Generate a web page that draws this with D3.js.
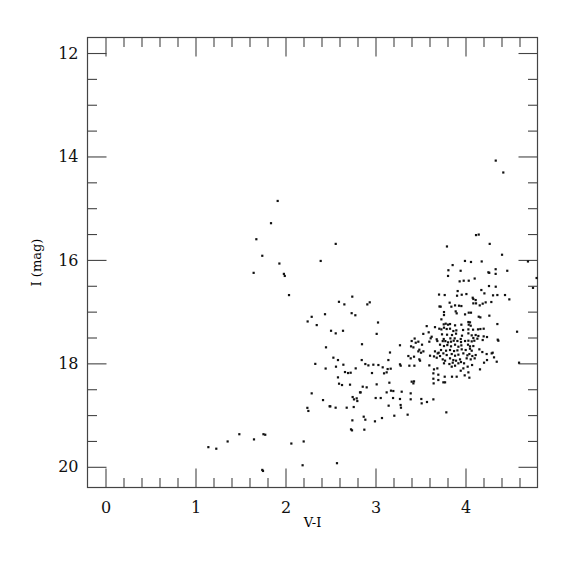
<!DOCTYPE html>
<html><head><meta charset="utf-8">
<script src="https://cdn.jsdelivr.net/npm/d3@7"></script>
<style>
html,body{margin:0;padding:0;background:#fff;}
svg{display:block;}
.axis path{display:none;}
.axis line{stroke:#444;stroke-width:1.1;}
.axis text{font-family:"DejaVu Serif",serif;font-size:16px;fill:#111;}
</style>
</head><body>
<svg id="c" width="575" height="575"></svg>
<script>
// V-I colour values
const vi = [
1.913,1.839,1.676,1.742,1.932,1.646,1.982,1.992,2.039,2.291,2.246,2.347,2.45,2.331,2.446,2.291,2.417,2.243,2.254,2.49,
1.143,1.231,1.357,1.487,1.65,1.755,1.775,2.065,2.202,1.742,1.75,2.19,2.572,
2.743,2.869,2.887,2.994,3.072,3.209,3.357,2.728,2.739,2.876,3.787,3.146,3.279,3.283,3.391,3.509,3.513,3.572,3.643,
2.532,2.583,2.561,2.643,2.780,2.583,2.661,2.695,2.724,2.595,2.628,2.717,2.498,2.557,2.680,2.758,2.746,2.761,2.791,2.798,2.828,
2.391,2.558,2.439,2.594,2.654,2.742,2.735,2.776,2.909,2.936,3.028,3.013,2.506,2.558,2.639,2.85,3.161,3.272,
3.794,4.117,4.147,4.269,4.406,4.694,3.857,3.81,3.806,3.946,3.994,4.061,4.18,4.254,4.264,4.335,4.335,4.464,4.102,4.75,4.79,3.706,3.711,3.569,3.661,
4.336,4.42,
3.709,3.531,3.591,3.624,3.613,3.435,3.68,
3.935,3.980,4.036,4.261,4.336,4.176,4.210,4.080,4.113,4.087,4.306,4.354,4.439,4.487,3.913,3.958,4.010,3.769,3.906,
3.824,3.843,3.884,3.928,3.954,4.087,4.117,4.158,4.191,4.224,4.287,3.724,3.761,3.761,3.891,3.902,3.995,4.036,4.061,
4.147,4.165,4.265,3.732,3.758,3.780,3.806,3.828,3.884,3.954,4.032,4.050,4.036,4.058,4.354,3.732,3.761,3.791,3.828,
3.865,3.898,3.973,4.032,4.084,4.139,4.165,4.202,4.573,3.739,3.795,3.850,3.895,3.961,4.032,4.069,4.113,4.143,4.202,
4.239,3.758,3.832,3.880,3.947,4.087,4.132,4.358,
3.402,3.447,3.476,3.517,3.598,3.395,3.421,3.487,3.476,3.506,3.532,3.687,3.717,3.661,3.691,3.606,3.650,3.717,3.680,3.702,
3.365,3.391,3.428,3.487,3.495,3.272,3.280,3.376,3.432,3.598,2.847,2.887,2.921,2.976,3.032,3.080,3.143,3.135,3.169,
3.095,3.124,2.961,3.650,3.687,3.643,3.698,3.402,3.428,3.421,3.154,3.643,3.698,3.646,2.858,2.902,3.013,2.835,
3.124,3.172,3.198,3.291,3.391,3.002,3.058,3.195,3.272,
3.747,3.776,3.806,3.839,3.869,3.910,3.950,3.995,4.032,4.069,4.098,4.191,4.365,
3.761,3.798,3.839,3.884,3.921,3.954,4.028,4.050,4.087,
3.728,3.784,3.828,3.873,3.910,3.958,4.002,4.050,4.069,4.154,4.187,4.235,4.302,
3.754,3.791,3.847,3.884,3.921,3.976,4.021,4.043,4.076,4.113,
3.747,3.773,3.828,3.865,3.895,3.939,4.013,4.058,4.102,
3.761,3.821,3.858,3.921,3.950,3.984,4.073,4.206,4.239,4.291,4.317,4.347,
3.847,3.884,3.976,3.947,4.024,4.161,4.032,3.991,4.043,3.769,3.850,3.902,3.754,3.773,4.595
];
// I magnitudes (same order)
const imag = [
14.86,15.29,15.60,15.92,16.07,16.25,16.27,16.31,16.68,17.10,17.19,17.26,17.69,18.01,18.10,18.58,18.71,18.86,18.92,18.83,
19.62,19.65,19.51,19.37,19.47,19.37,19.38,19.55,19.51,20.06,20.08,19.97,19.93,
19.102,19.031,19.089,19.121,19.057,19.012,18.992,19.276,19.295,19.282,18.947,18.818,18.805,18.857,18.695,18.689,18.773,18.747,18.696,
17.890,17.936,18.064,18.026,18.097,18.271,18.168,18.187,18.181,18.393,18.419,18.412,18.831,18.857,18.857,18.844,18.651,18.696,18.677,18.728,18.561,
16.02,15.69,17.05,16.81,16.86,16.71,17.03,17.07,16.86,16.82,17.21,17.43,17.37,17.42,17.37,17.63,17.79,17.65,
15.74,15.52,15.51,15.69,15.90,16.03,16.10,16.20,16.31,16.21,16.02,16.04,16.03,16.24,16.25,16.18,16.27,16.21,16.36,16.54,16.35,16.67,16.90,17.28,17.30,
14.08,14.31,
17.33,17.43,17.40,17.485,17.516,17.52,17.535,
16.415,16.402,16.402,16.505,16.518,16.582,16.647,16.731,16.776,16.756,16.685,16.679,16.679,16.763,16.602,16.673,16.660,16.679,16.692,
16.827,16.904,16.879,16.885,16.892,16.840,16.840,16.879,16.846,16.821,16.814,16.904,17.008,17.066,16.995,17.033,17.053,17.020,17.020,
17.098,17.111,17.078,17.149,17.246,17.233,17.252,17.240,17.265,17.252,17.201,17.207,17.252,17.272,17.240,17.343,17.310,17.336,17.330,
17.375,17.362,17.355,17.343,17.349,17.343,17.336,17.330,17.388,17.439,17.446,17.452,17.426,17.465,17.420,17.459,17.452,17.471,17.478,
17.491,17.529,17.517,17.517,17.529,17.510,17.523,17.542,
17.568,17.601,17.581,17.639,17.581,17.671,17.691,17.736,17.768,17.794,17.768,17.568,17.639,17.768,17.807,17.852,17.865,17.858,17.891,17.794,
17.858,17.903,17.871,17.923,17.948,18.019,18.045,18.045,18.045,18.039,17.936,18.013,18.039,18.026,18.032,18.077,17.936,18.110,18.103,
18.193,18.174,18.187,18.116,18.097,18.193,18.219,18.354,18.348,18.387,18.374,18.297,18.322,18.387,18.451,18.464,18.406,18.561,
18.561,18.528,18.535,18.548,18.580,18.670,18.670,18.670,18.689,
17.570,17.570,17.594,17.581,17.562,17.568,17.588,17.568,17.562,17.575,17.562,17.549,17.562,
17.665,17.646,17.671,17.639,17.678,17.652,17.639,17.671,17.665,
17.742,17.755,17.742,17.762,17.749,17.729,17.742,17.717,17.755,17.729,17.781,17.820,17.794,
17.807,17.839,17.820,17.852,17.832,17.807,17.845,17.820,17.858,17.839,
17.923,17.948,17.903,17.936,17.948,17.923,17.903,17.923,17.903,
17.999,18.013,17.987,17.999,17.974,17.999,18.032,17.987,17.936,17.807,17.884,17.968,
18.064,18.045,18.097,18.142,18.064,18.116,18.174,18.232,18.277,18.258,18.258,18.258,18.367,18.367,17.987
];
const xMajor = [0,1,2,3,4];
const yMajor = [12,14,16,18,20];
const xLabel = "V-I";
const yLabel = "I (mag)";

const svg = d3.select("#c");
const L=87.5, T=37.5, W=450, H=450;
const x = d3.scaleLinear().domain([-0.2,4.8]).range([L,L+W]);
const y = d3.scaleLinear().domain([11.7,20.4]).range([T,T+H]);

const xMinor = d3.range(0,25).map(i=>-0.2+i*0.2).filter(v=>Math.abs(v-Math.round(v))>1e-6 && v>-0.19 && v<4.79);
const yMinor = d3.range(0,18).map(i=>12+i*0.5).filter(v=>v%2!==0 && v<20.4);

function ax(gen, tr, vals, size, labels){
  const g = svg.append("g").attr("class","axis").attr("transform",tr)
    .call(gen.tickValues(vals).tickSizeInner(-size).tickSizeOuter(0).tickPadding(labels?9:0).tickFormat(labels?d3.format("d"):""));
  return g;
}
ax(d3.axisBottom(x), `translate(0,${T+H})`, xMinor, 9.5, false);
ax(d3.axisBottom(x), `translate(0,${T+H})`, xMajor, 19, true).selectAll("text").attr("dy","1.05em");
ax(d3.axisTop(x), `translate(0,${T})`, xMinor, 9.5, false);
ax(d3.axisTop(x), `translate(0,${T})`, xMajor, 19, false);
ax(d3.axisLeft(y), `translate(${L},0)`, yMinor, 9.5, false);
ax(d3.axisLeft(y), `translate(${L},0)`, yMajor, 19, true);
ax(d3.axisRight(y), `translate(${L+W},0)`, yMinor, 9.5, false);
ax(d3.axisRight(y), `translate(${L+W},0)`, yMajor, 19, false);

svg.append("rect").attr("x",L).attr("y",T).attr("width",W).attr("height",H)
  .attr("fill","none").attr("stroke","#444").attr("stroke-width",1.2);

svg.append("g").selectAll("rect").data(vi.map((v,i)=>[v,imag[i]])).join("rect")
  .attr("x",d=>x(d[0])-1.1).attr("y",d=>y(d[1])-1.1).attr("width",2.2).attr("height",2.2).attr("fill","#111");

svg.append("text").attr("x",x(2.3)).attr("y",527).attr("text-anchor","middle")
  .style("font-family","DejaVu Serif, serif").style("font-size","13px").text(xLabel);
svg.append("text").attr("transform",`translate(41,${y(16.05)}) rotate(-90)`).attr("text-anchor","middle")
  .style("font-family","DejaVu Serif, serif").style("font-size","13px").text(yLabel);
</script>
</body></html>
